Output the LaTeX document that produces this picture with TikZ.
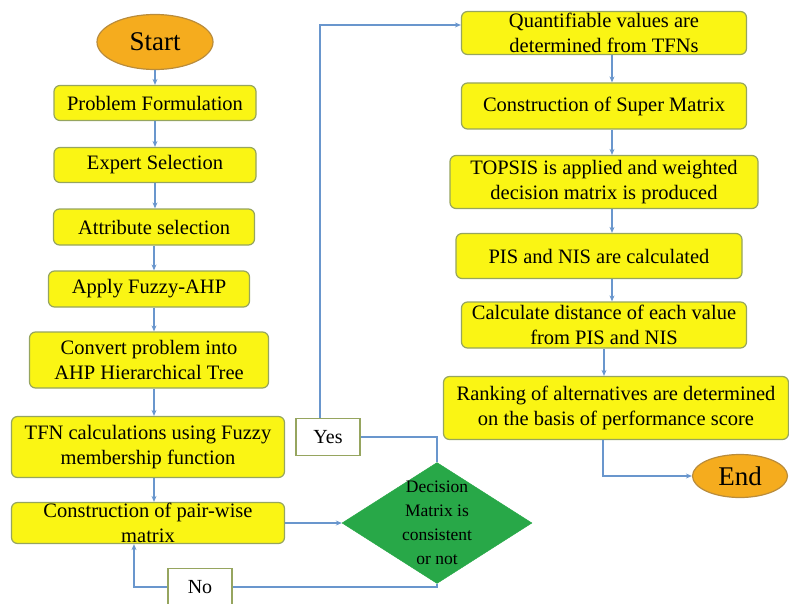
\documentclass[tikz,border=0pt]{standalone}
\usepackage{fontspec}
\setmainfont{Liberation Serif}
\usepackage{tikz}
\usetikzlibrary{positioning,calc,shapes.geometric,arrows.meta}

\definecolor{boxfill}{RGB}{250,245,20}
\definecolor{boxline}{RGB}{150,165,95}
\definecolor{termfill}{RGB}{245,172,30}
\definecolor{termline}{RGB}{185,140,60}
\definecolor{decfill}{RGB}{40,168,72}
\definecolor{linkcol}{RGB}{105,150,205}

\begin{document}
\begin{tikzpicture}[x=1pt,y=-1pt,
	box/.style={draw=boxline,fill=boxfill,rounded corners=6pt,line width=1.2pt,align=center,inner sep=0pt,font=\fontsize{20.5}{25}\selectfont},
	term/.style={ellipse,draw=termline,fill=termfill,line width=1.2pt,inner sep=0pt,font=\fontsize{27}{28}\selectfont},
	tag/.style={draw=boxline,fill=white,line width=1.2pt,inner sep=0pt,minimum width=64,minimum height=37,font=\fontsize{20}{25}\selectfont},
	link/.style={draw=linkcol,line width=1.1pt},
	arr/.style={link,-{Stealth[length=6pt,width=5pt]}}]
		\useasboundingbox (0,0) rectangle (789,604);
		% left column
		\node[term,minimum width=116,minimum height=55] (0) at (155,42) {Start};
		\node[box,minimum width=202,minimum height=35] (1) at (155,103) {Problem Formulation};
		\node[box,minimum width=202,minimum height=35] (2) at (155,165) {Expert Selection};
		\node[box,minimum width=201,minimum height=36] (3) at (154,227) {Attribute selection};
		\node[box,minimum width=201,minimum height=36] (4) at (149,289) {Apply Fuzzy-AHP};
		\node[box,minimum width=239,minimum height=56] (5) at (149,360) {Convert problem into\\AHP Hierarchical Tree};
		\node[box,minimum width=273,minimum height=61] (6) at (148,447) {TFN calculations using Fuzzy\\membership function};
		\node[box,minimum width=273,minimum height=41] (7) at (148,523) {Construction of pair-wise\\matrix};
		% decision
		\node[diamond,draw=decfill,fill=decfill,inner sep=0pt,minimum width=190,minimum height=121,
			label={[align=center,font=\fontsize{17.5}{24}\selectfont]center:Decision\\Matrix is\\consistent\\or not}] (8) at (437,523) {};
		\node[tag] (yes) at (328,437) {Yes};
		\node[tag] (no) at (200,587) {No};
		% right column
		\node[box,minimum width=285,minimum height=43] (9) at (604,33) {Quantifiable values are\\determined from TFNs};
		\node[box,minimum width=285,minimum height=46] (10) at (604,106) {Construction of Super Matrix};
		\node[box,minimum width=308,minimum height=53] (11) at (604,182) {TOPSIS is applied and weighted\\decision matrix is produced};
		\node[box,minimum width=286,minimum height=45] (12) at (599,256) {PIS and NIS are calculated};
		\node[box,minimum width=285,minimum height=46] (13) at (604,325) {Calculate distance of each value\\from PIS and NIS};
		\node[box,minimum width=345,minimum height=63] (14) at (616,408) {Ranking of alternatives are determined\\on the basis of performance score};
		\node[term,minimum width=95,minimum height=43] (15) at (740,476) {End};
		% connectors
		\draw[arr] (0.south) -- (1.north);
		\draw[arr] (1.south) -- (2.north);
		\draw[arr] (2.south) -- (2.south |- 3.north);
		\draw[arr] (3.south) -- (3.south |- 4.north);
		\draw[arr] ([xshift=5]4.south) -- ([xshift=5]4.south |- 5.north);
		\draw[arr] ([xshift=5]5.south) -- ([xshift=5]5.south |- 6.north);
		\draw[arr] ([xshift=6]6.south) -- ([xshift=6]6.south |- 7.north);
		\draw[arr] (7.east) -- (8.west);
		\draw[link] (8.north) |- (yes.east);
		\draw[arr] ([xshift=-8]yes.north) |- ([yshift=8]9.west);
		\draw[link] (8.south) |- (no.east);
		\draw[arr] (no.west) -| ([xshift=-14]7.south);
		\draw[arr] ([xshift=8]9.south) -- ([xshift=8]9.south |- 10.north);
		\draw[arr] ([xshift=8]10.south) -- ([xshift=8]10.south |- 11.north);
		\draw[arr] ([xshift=8]10.south |- 11.south) -- ([xshift=8]10.south |- 12.north);
		\draw[arr] ([xshift=8]10.south |- 12.south) -- ([xshift=8]10.south |- 13.north);
		\draw[arr] (13.south) -- (13.south |- 14.north);
		\draw[arr] ([xshift=-13]14.south) |- (15.west);
	\end{tikzpicture}
\end{document}
